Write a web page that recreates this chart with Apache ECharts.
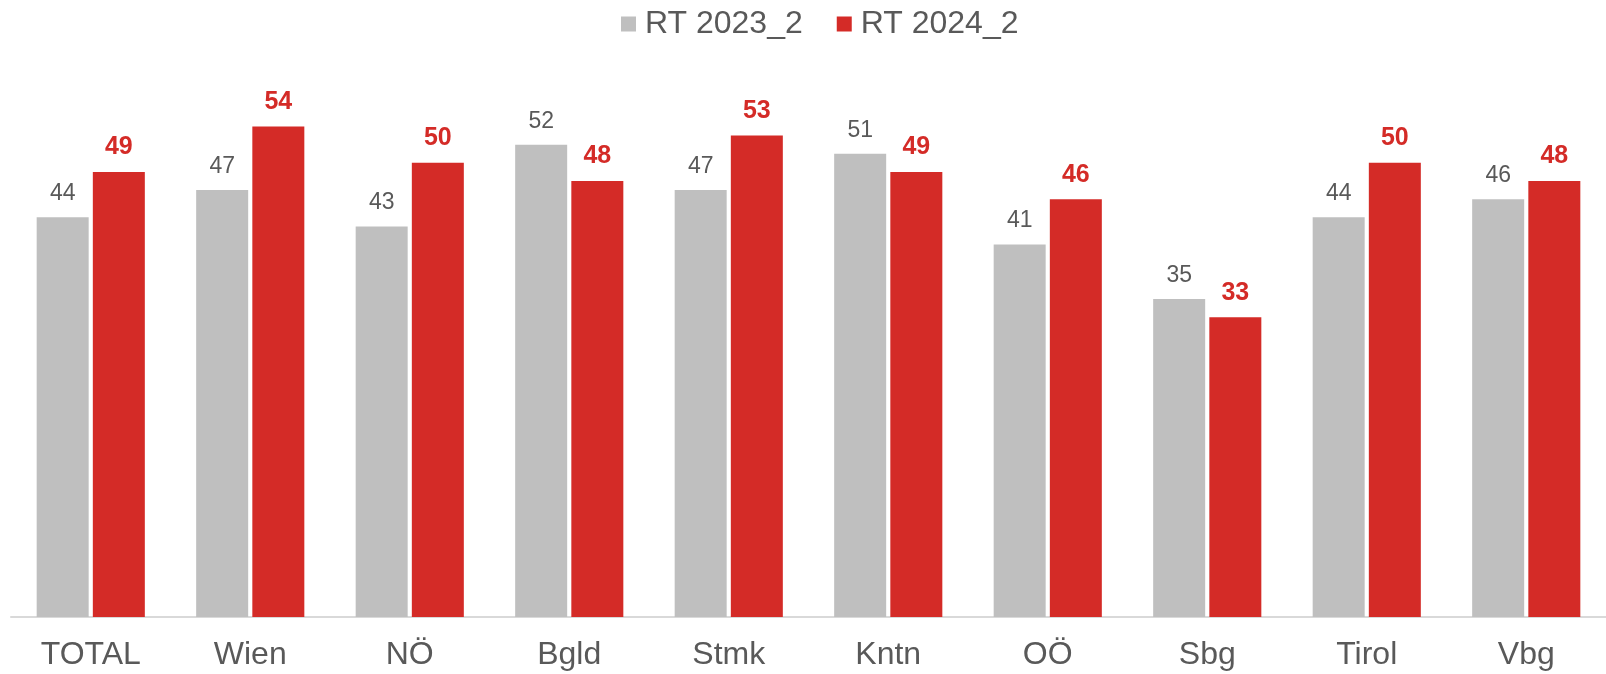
<!DOCTYPE html>
<html>
<head>
<meta charset="utf-8">
<script src="https://cdn.jsdelivr.net/npm/echarts@6/dist/echarts.min.js"></script>
<style>
html,body{margin:0;padding:0;background:#fff;}
#chart{width:1606px;height:674px;}
</style>
</head>
<body>
<div id="chart"></div>
<script>
const categories = ['TOTAL','Wien','NÖ','Bgld','Stmk','Kntn','OÖ','Sbg','Tirol','Vbg'];
const seriesNames = ['RT 2023_2','RT 2024_2'];
const values2023 = [44,47,43,52,47,51,41,35,44,46];
const values2024 = [49,54,50,48,53,49,46,33,50,48];

const FONT = "'Liberation Sans', Arial, sans-serif";
const GRAY = '#BFBFBF';
const RED = '#D42B27';
const TEXT = '#595959';

const chart = echarts.init(document.getElementById('chart'), null, {renderer:'canvas'});
chart.setOption({
  animation: false,
  backgroundColor: '#fff',
  textStyle: {fontFamily: FONT},
  legend: {
    data: seriesNames,
    left: 616,
    top: 3,
    itemWidth: 15,
    itemHeight: 15,
    itemGap: 34,
    icon: 'rect',
    textStyle: {fontFamily: FONT, fontSize: 32, color: TEXT, padding: [0,0,0,4]}
  },
  grid: {left: 11, width: 1600, top: 72, bottom: 57, containLabel: false},
  xAxis: {
    type: 'category',
    data: categories,
    axisLine: {show: true, lineStyle: {color: '#D9D9D9', width: 2}},
    axisTick: {show: false},
    axisLabel: {fontFamily: FONT, fontSize: 32, color: TEXT, margin: 22}
  },
  yAxis: {
    type: 'value',
    min: 0, max: 60,
    show: false,
    splitLine: {show: false}
  },
  series: [
    {
      name: seriesNames[0],
      type: 'bar',
      data: values2023,
      barWidth: 52,
      barGap: '8%',
      itemStyle: {color: GRAY},
      label: {show: true, position: 'top', distance: 12, fontFamily: FONT, fontSize: 23, color: TEXT}
    },
    {
      name: seriesNames[1],
      type: 'bar',
      data: values2024,
      barWidth: 52,
      itemStyle: {color: RED},
      label: {show: true, position: 'top', distance: 12, fontFamily: FONT, fontSize: 25, fontWeight: 'bold', color: RED}
    }
  ]
});
</script>
</body>
</html>
